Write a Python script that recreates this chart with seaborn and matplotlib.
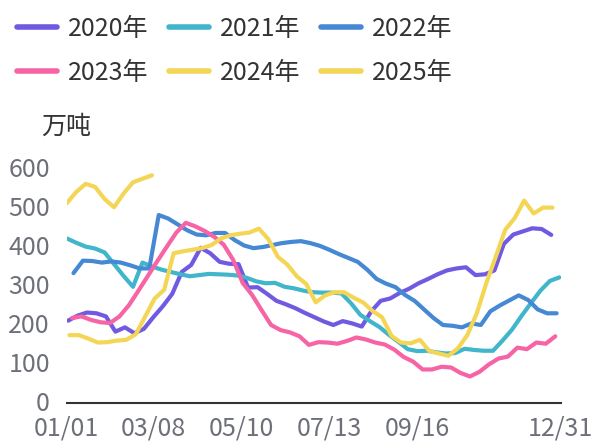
import matplotlib
matplotlib.use("Agg")
import matplotlib.pyplot as plt
from matplotlib.lines import Line2D
from matplotlib.transforms import ScaledTranslation
import numpy as np
import pandas as pd
import seaborn as sns

# Weekly stock levels (万吨), one series per year
years = ["2020年", "2021年", "2022年", "2023年", "2024年", "2025年"]
first_dates = ["2020-01-02", "2021-01-01", "2022-01-06", "2023-01-05", "2024-01-03", "2025-01-01"]

y2020 = [211, 224, 232, 230, 222, 183, 194, 179, 190, 220, 248, 280, 336, 354, 398,
         384, 362, 357, 356, 296, 297, 280, 262, 253, 243, 231, 220, 209, 200, 210,
         204, 196, 235, 262, 268, 282, 293, 307, 318, 330, 340, 345, 348, 328, 330,
         340, 408, 432, 440, 448, 446, 431]
y2021 = [422, 411, 401, 396, 386, 356, 326, 298, 360, 350, 342, 336, 330, 325, 328,
         331, 330, 329, 327, 321, 312, 307, 308, 298, 294, 288, 284, 283, 283, 281,
         256, 226, 210, 195, 175, 157, 138, 133, 134, 130, 127, 128, 139, 136, 134,
         134, 160, 188, 223, 256, 288, 313, 322]
y2022 = [333, 365, 364, 360, 363, 360, 353, 345, 345, 482, 473, 458, 443, 432, 430,
         436, 436, 418, 404, 397, 400, 405, 410, 413, 415, 410, 403, 393, 382, 372,
         362, 342, 318, 306, 297, 277, 262, 240, 218, 200, 198, 194, 204, 200, 235,
         250, 263, 276, 264, 240, 230, 230]
y2023 = [218, 222, 213, 207, 205, 222, 251, 288, 326, 364, 401, 437, 462, 453, 441,
         426, 406, 367, 308, 277, 238, 200, 187, 181, 171, 149, 156, 155, 152, 159,
         168, 163, 155, 150, 137, 118, 106, 86, 86, 93, 91, 77, 68, 80, 99,
         114, 119, 142, 138, 155, 152, 171]
y2024 = [174, 174, 165, 155, 156, 160, 162, 176, 222, 268, 290, 384, 389, 393, 397,
         405, 422, 430, 434, 437, 447, 420, 375, 355, 325, 305, 258, 276, 284, 284,
         270, 258, 236, 220, 172, 155, 153, 162, 133, 127, 121, 140, 174, 230, 307,
         375, 444, 474, 519, 486, 501, 501]
y2025 = [512, 541, 562, 554, 523, 502, 537, 566, 575, 584]

series = [y2020, y2021, y2022, y2023, y2024, y2025]
colors = ["#715ae2", "#40b5cc", "#4589d4", "#f664a5", "#f4d656", "#f4d656"]

tick_days = [0, 64, 129, 194, 259, 323, 365]
tick_labels = ["01/01", "03/08", "05/10", "07/13", "09/16", "", "12/31"]

# Long-form table: day of year (0 = Jan 1) for each weekly observation
frames = []
for name, start, vals in zip(years, first_dates, series):
    dates = pd.date_range(start, periods=len(vals), freq="7D")
    jan1 = pd.Timestamp(year=dates[0].year, month=1, day=1)
    frames.append(pd.DataFrame({
        "day": (dates - jan1).days,
        "value": vals,
        "year": name,
    }))
df = pd.concat(frames, ignore_index=True)

sns.set_style("white")
plt.rcParams["font.family"] = ["Noto Sans CJK SC", "DejaVu Sans"]

fig = plt.figure(figsize=(5.93, 4.41), dpi=100)
ax = fig.add_axes([66.7 / 593, 38 / 441, 494 / 593, 234 / 441])

sns.lineplot(data=df, x="day", y="value", hue="year", hue_order=years,
             palette=colors, estimator=None, sort=True, linewidth=3,
             legend=False, ax=ax)
for ln in ax.get_lines():
    ln.set_solid_joinstyle("round")
    ln.set_solid_capstyle("round")

ax.set_xlim(0, 365)
ax.set_ylim(0, 600)
ax.set_xlabel("")
ax.set_ylabel("")
ax.set_xticks(tick_days)
ax.set_xticklabels(tick_labels)
ax.set_yticks([0, 100, 200, 300, 400, 500, 600])
ax.tick_params(axis="x", direction="out", length=6, width=1.5, color="#333333",
               labelsize=18, labelcolor="#6e7079", pad=3)
ax.tick_params(axis="y", length=0, labelsize=18, labelcolor="#6e7079", pad=12)
# value labels sit a touch above their gridline positions
lift = ScaledTranslation(0, 2 / 100, fig.dpi_scale_trans)
for lbl in ax.get_yticklabels():
    lbl.set_transform(lbl.get_transform() + lift)
for side in ["left", "top", "right"]:
    ax.spines[side].set_visible(False)
ax.spines["bottom"].set_color("#333333")
ax.spines["bottom"].set_linewidth(1.5)

fig.text(66 / 593, 1 - 127 / 441, "万吨", ha="center", va="center",
         fontsize=18, color="#333333")

# Legend laid out row by row: 2020 2021 2022 / 2023 2024 2025
handles = [Line2D([], [], color=c, linewidth=4) for c in colors]
order = [0, 3, 1, 4, 2, 5]
fig.legend([handles[i] for i in order], [years[i] for i in order],
           ncol=3, loc="upper left", bbox_to_anchor=(17 / 593, 1 - 16 / 441),
           frameon=False, fontsize=18, handlelength=1.6, handletextpad=0.43,
           columnspacing=0.83, labelspacing=0.72, borderpad=0, borderaxespad=0,
           labelcolor="#333333")

fig.savefig("out.png", dpi=100)
